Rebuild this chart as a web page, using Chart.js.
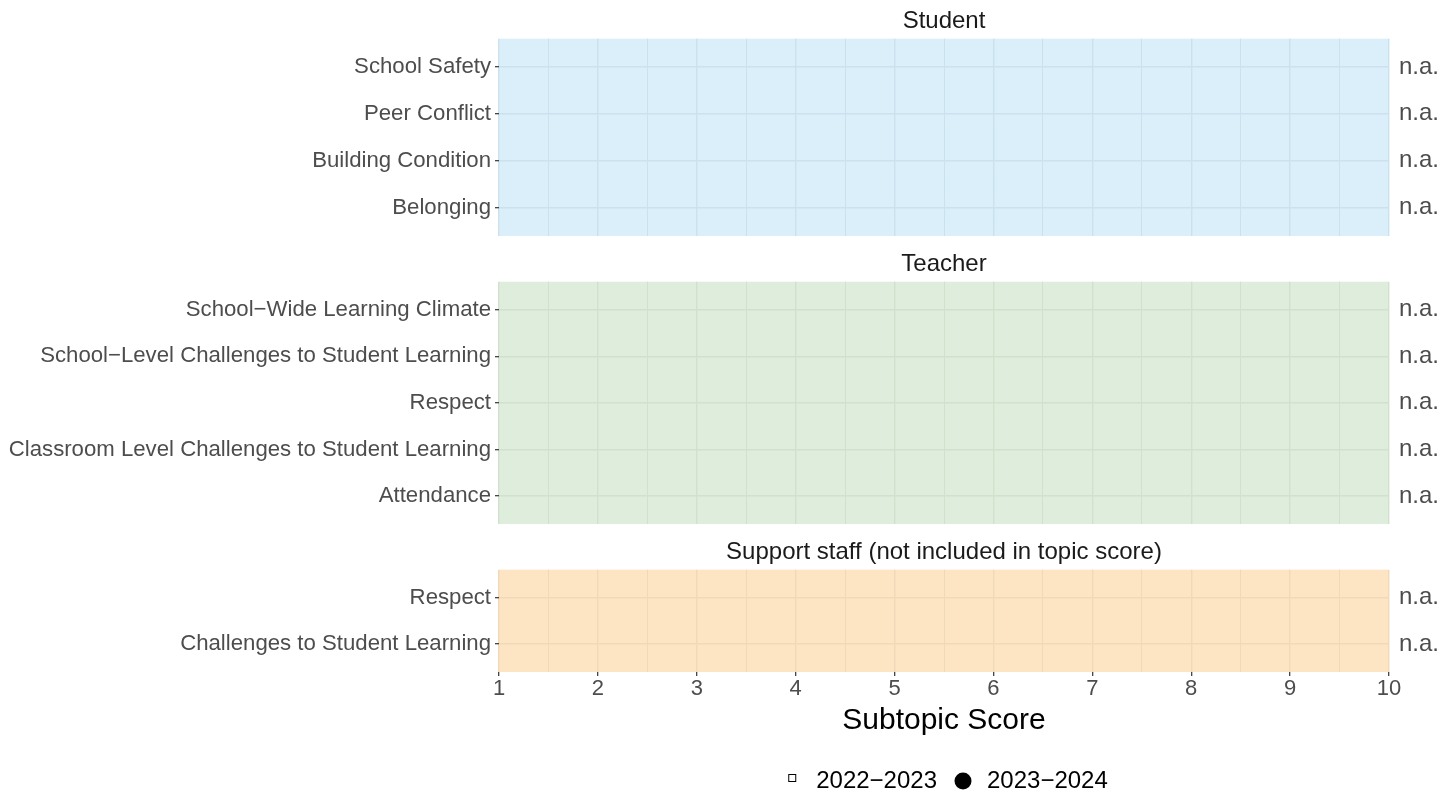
<!DOCTYPE html>
<html>
<head>
<meta charset="utf-8">
<script src="https://cdn.jsdelivr.net/npm/chart.js@4/dist/chart.umd.min.js"></script>
<style>
  html, body { margin: 0; padding: 0; background: #fff; overflow: hidden; }
  .panel { position: absolute; left: 0; width: 1455px; }
</style>
</head>
<body>
<div class="panel" style="top:3px;height:238px"><canvas id="studentChart"></canvas></div>
<div class="panel" style="top:246px;height:283px"><canvas id="teacherChart"></canvas></div>
<div class="panel" style="top:534px;height:269px"><canvas id="staffChart"></canvas></div>
<script>
// カテゴリ
const studentTopics = ['School Safety', 'Peer Conflict', 'Building Condition', 'Belonging'];
const teacherTopics = ['School\u2212Wide Learning Climate', 'School\u2212Level Challenges to Student Learning',
    'Respect', 'Classroom Level Challenges to Student Learning', 'Attendance'];
const staffTopics = ['Respect', 'Challenges to Student Learning'];

// 値（全て n.a.）
const student2223 = [null, null, null, null];
const student2324 = [null, null, null, null];
const teacher2223 = [null, null, null, null, null];
const teacher2324 = [null, null, null, null, null];
const staff2223 = [null, null];
const staff2324 = [null, null];

const seriesNames = ['2022\u22122023', '2023\u22122024'];
const xTicks = [1, 2, 3, 4, 5, 6, 7, 8, 9, 10];
const xMinorTicks = [1.5, 2.5, 3.5, 4.5, 5.5, 6.5, 7.5, 8.5, 9.5];

const FONT = "'Liberation Sans', Arial, sans-serif";
Chart.defaults.font.family = FONT;

// 凡例マーカー
function makeMarker(kind) {
    const c = document.createElement('canvas');
    c.width = 24; c.height = 24;
    const g = c.getContext('2d');
    if (kind === 'square') {
        g.fillStyle = '#fff';
        g.strokeStyle = '#000';
        g.lineWidth = 1;
        g.fillRect(8.5, 5.5, 7, 7);
        g.strokeRect(8.5, 5.5, 7, 7);
    } else {
        g.fillStyle = '#000';
        g.beginPath();
        g.arc(12, 12, 8.5, 0, Math.PI * 2);
        g.fill();
    }
    return c;
}
const squareMarker = makeMarker('square');
const circleMarker = makeMarker('circle');

// パネル背景
const panelBg = {
    id: 'panelBg',
    beforeDraw(chart, args, opts) {
        const a = chart.chartArea;
        const ctx = chart.ctx;
        ctx.save();
        ctx.fillStyle = opts.color;
        ctx.fillRect(a.left, a.top, a.right - a.left, a.bottom - a.top);
        ctx.restore();
    }
};

function allXTicks(scale) {
    scale.ticks = xTicks.concat(xMinorTicks).sort((a, b) => a - b).map(v => ({value: v}));
}

// 縦軸の幅を固定し、ラベル用の余白を無くす
function fixWidth(w) {
    return s => {
        s.width = w;
        s.paddingTop = 0;
        s.paddingBottom = 0;
    };
}

function makePanel(id, strip, topics, prev, cur, bg, line, isBottom) {
    const ctx = document.getElementById(id).getContext('2d');
    const n = topics.length;
    const idxTicks = scale => { scale.ticks = topics.map((_, i) => ({value: i})); };
    return new Chart(ctx, {
        type: 'scatter',
        data: {
            datasets: [{
                label: seriesNames[0],
                data: prev.map((v, i) => ({x: v, y: i})),
                pointStyle: squareMarker,
                borderColor: '#000',
                backgroundColor: '#fff'
            }, {
                label: seriesNames[1],
                data: cur.map((v, i) => ({x: v, y: i})),
                pointStyle: circleMarker,
                borderColor: '#000',
                backgroundColor: '#000'
            }]
        },
        options: {
            responsive: true,
            maintainAspectRatio: false,
            animation: false,
            devicePixelRatio: 1,
            layout: { padding: 0 },
            scales: {
                x: {
                    type: 'linear',
                    min: 1,
                    max: 10,
                    afterBuildTicks: allXTicks,
                    afterFit: s => { if (!isBottom) s.height = 0; },
                    border: { display: false },
                    grid: {
                        color: line,
                        lineWidth: c => Number.isInteger(c.tick.value) ? 1.4 : 1,
                        drawTicks: isBottom,
                        tickLength: 4,
                        tickWidth: 1.2,
                        tickColor: c => Number.isInteger(c.tick.value) ? '#333333' : 'rgba(0,0,0,0)'
                    },
                    ticks: {
                        display: isBottom,
                        autoSkip: false,
                        maxRotation: 0,
                        padding: 0,
                        color: '#4D4D4D',
                        font: { size: 22 },
                        callback: v => xTicks.includes(v) ? String(v) : ''
                    },
                    title: {
                        display: isBottom,
                        text: 'Subtopic Score',
                        color: '#000',
                        font: { size: 30 },
                        padding: { top: 0, bottom: 16.6 }
                    }
                },
                strip: {
                    type: 'linear',
                    position: 'top',
                    border: { display: false },
                    grid: { display: false, drawTicks: false },
                    ticks: { display: false },
                    title: {
                        display: true,
                        text: strip,
                        color: '#1A1A1A',
                        font: { size: 24 },
                        padding: { top: 4, bottom: 2.9 }
                    }
                },
                y: {
                    type: 'linear',
                    position: 'left',
                    reverse: true,
                    min: -0.6,
                    max: n - 0.4,
                    afterBuildTicks: idxTicks,
                    afterFit: fixWidth(499),
                    border: { display: false },
                    grid: {
                        color: line,
                        lineWidth: 1.4,
                        tickLength: 4,
                        tickWidth: 1.2,
                        tickColor: '#333333'
                    },
                    ticks: {
                        padding: 4,
                        color: '#4D4D4D',
                        font: { size: 22.2 },
                        callback: v => topics[v]
                    }
                },
                yr: {
                    type: 'linear',
                    position: 'right',
                    reverse: true,
                    min: -0.6,
                    max: n - 0.4,
                    afterBuildTicks: idxTicks,
                    afterFit: fixWidth(66),
                    border: { display: false },
                    grid: { display: false, drawTicks: false },
                    ticks: {
                        padding: 10,
                        color: '#4D4D4D',
                        font: { size: 24 },
                        callback: v => cur[v] == null ? 'n.a.' : cur[v].toFixed(1)
                    }
                }
            },
            plugins: {
                panelBg: { color: bg },
                tooltip: { enabled: false },
                title: { display: false },
                legend: {
                    display: isBottom,
                    position: 'bottom',
                    fullSize: false,
                    labels: {
                        usePointStyle: true,
                        boxWidth: 24,
                        padding: 14,
                        color: '#000',
                        font: { size: 24 }
                    }
                }
            }
        },
        plugins: [panelBg]
    });
}

makePanel('studentChart', 'Student', studentTopics, student2223, student2324, '#DAEFFA', '#CBE2EE', false);
makePanel('teacherChart', 'Teacher', teacherTopics, teacher2223, teacher2324, '#DFEDDC', '#D1E1CE', false);
makePanel('staffChart', 'Support staff (not included in topic score)', staffTopics, staff2223, staff2324, '#FDE5C4', '#F0D9B8', true);
</script>
</body>
</html>
